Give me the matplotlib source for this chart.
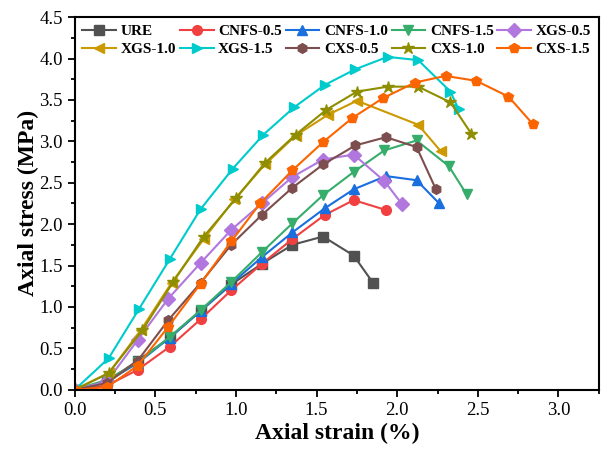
import matplotlib
matplotlib.use("Agg")
import matplotlib.pyplot as plt
from matplotlib.ticker import MultipleLocator

plt.rcParams['font.family'] = ['Liberation Serif', 'DejaVu Serif']

labels = ["URE", "CNFS-0.5", "CNFS-1.0", "CNFS-1.5", "XGS-0.5",
          "XGS-1.0", "XGS-1.5", "CXS-0.5", "CXS-1.0", "CXS-1.5"]
colors = ["#515151", "#F14040", "#1A6FDF", "#37AD6B", "#B177DE",
          "#CC9900", "#00CBCC", "#7D4E4E", "#8E8E00", "#FB6501"]
markers = ["s", "o", "^", "v", "D", "<", ">", "h", "*", "p"]

ure_x = [0, 0.20, 0.39, 0.59, 0.78, 0.97, 1.16, 1.35, 1.54, 1.73, 1.85]
ure_y = [0, 0.10, 0.35, 0.63, 0.95, 1.27, 1.52, 1.75, 1.85, 1.62, 1.29]

cnfs05_x = [0, 0.20, 0.39, 0.59, 0.78, 0.97, 1.16, 1.35, 1.55, 1.73, 1.93]
cnfs05_y = [0, 0.05, 0.24, 0.52, 0.85, 1.20, 1.52, 1.82, 2.11, 2.29, 2.17]

cnfs10_x = [0, 0.20, 0.39, 0.59, 0.78, 0.97, 1.16, 1.35, 1.55, 1.73, 1.93, 2.12, 2.26]
cnfs10_y = [0, 0.10, 0.32, 0.63, 0.95, 1.28, 1.60, 1.90, 2.19, 2.42, 2.58, 2.53, 2.25]

cnfs15_x = [0, 0.20, 0.39, 0.59, 0.78, 0.97, 1.16, 1.35, 1.54, 1.73, 1.92, 2.12, 2.32, 2.43]
cnfs15_y = [0, 0.12, 0.33, 0.64, 0.96, 1.30, 1.66, 2.01, 2.35, 2.63, 2.89, 3.01, 2.70, 2.36]

xgs05_x = [0, 0.20, 0.39, 0.58, 0.78, 0.97, 1.16, 1.35, 1.54, 1.73, 1.92, 2.03]
xgs05_y = [0, 0.10, 0.60, 1.10, 1.53, 1.93, 2.25, 2.57, 2.78, 2.84, 2.52, 2.24]

xgs10_x = [0, 0.21, 0.41, 0.60, 0.80, 0.99, 1.18, 1.37, 1.57, 1.75, 2.13, 2.27]
xgs10_y = [0, 0.20, 0.72, 1.29, 1.82, 2.30, 2.72, 3.07, 3.32, 3.49, 3.20, 2.88]

xgs15_x = [0, 0.21, 0.40, 0.59, 0.78, 0.98, 1.17, 1.36, 1.55, 1.74, 1.94, 2.13, 2.33, 2.38]
xgs15_y = [0, 0.38, 0.98, 1.58, 2.18, 2.67, 3.08, 3.41, 3.68, 3.87, 4.02, 3.98, 3.60, 3.39]

cxs05_x = [0, 0.20, 0.39, 0.58, 0.78, 0.97, 1.16, 1.35, 1.54, 1.74, 1.93, 2.12, 2.24]
cxs05_y = [0, 0.08, 0.35, 0.84, 1.29, 1.75, 2.11, 2.44, 2.72, 2.95, 3.05, 2.93, 2.42]

cxs10_x = [0, 0.21, 0.42, 0.61, 0.80, 1.00, 1.18, 1.37, 1.56, 1.75, 1.94, 2.13, 2.33, 2.46]
cxs10_y = [0, 0.20, 0.72, 1.30, 1.85, 2.31, 2.74, 3.08, 3.38, 3.60, 3.66, 3.66, 3.47, 3.09]

cxs15_x = [0, 0.20, 0.39, 0.58, 0.78, 0.97, 1.15, 1.35, 1.54, 1.72, 1.91, 2.11, 2.30, 2.49, 2.69, 2.84]
cxs15_y = [0, 0.03, 0.29, 0.76, 1.28, 1.79, 2.25, 2.65, 2.99, 3.28, 3.52, 3.71, 3.79, 3.73, 3.54, 3.21]

series_x = [ure_x, cnfs05_x, cnfs10_x, cnfs15_x, xgs05_x, xgs10_x, xgs15_x, cxs05_x, cxs10_x, cxs15_x]
series_y = [ure_y, cnfs05_y, cnfs10_y, cnfs15_y, xgs05_y, xgs10_y, xgs15_y, cxs05_y, cxs10_y, cxs15_y]

fig = plt.figure(figsize=(6.03, 4.5), dpi=100)
ax = fig.add_axes([0.124, 0.134, 0.869, 0.828])

handles = []
for xs, ys, lab, c, m in zip(series_x, series_y, labels, colors, markers):
    ms = 9 if m == "*" else 7
    h, = ax.plot(xs, ys, color=c, marker=m, markersize=ms, linewidth=1.5, label=lab)
    handles.append(h)

ax.set_xlim(0, 3.25)
ax.set_ylim(0, 4.5)
ax.xaxis.set_major_locator(MultipleLocator(0.5))
ax.xaxis.set_minor_locator(MultipleLocator(0.25))
ax.yaxis.set_major_locator(MultipleLocator(0.5))
ax.yaxis.set_minor_locator(MultipleLocator(0.25))
ax.xaxis.set_major_formatter(plt.FuncFormatter(lambda v, p: f"{v:.1f}"))
ax.yaxis.set_major_formatter(plt.FuncFormatter(lambda v, p: f"{v:.1f}"))
ax.tick_params(which='both', direction='out', top=False, right=False, width=1.3, labelsize=13.5)
ax.tick_params(which='major', length=5)
ax.tick_params(which='minor', length=3)
for s in ax.spines.values():
    s.set_linewidth(1.5)

ax.set_xlabel("Axial strain (%)", fontsize=17, fontweight='bold', labelpad=3)
ax.set_ylabel("Axial stress (MPa)", fontsize=17, fontweight='bold', labelpad=0)

ncol = 5
order = [0, 5, 1, 6, 2, 7, 3, 8, 4, 9]
ax.legend([handles[i] for i in order], [labels[i] for i in order],
          loc='upper left', ncol=ncol, frameon=False,
          prop={'weight': 'bold', 'size': 11}, handlelength=2.2,
          handletextpad=0.3, columnspacing=0.25, borderaxespad=0.1,
          labelspacing=0.25, bbox_to_anchor=(0.0, 1.0))

fig.savefig("out.png", dpi=100)
